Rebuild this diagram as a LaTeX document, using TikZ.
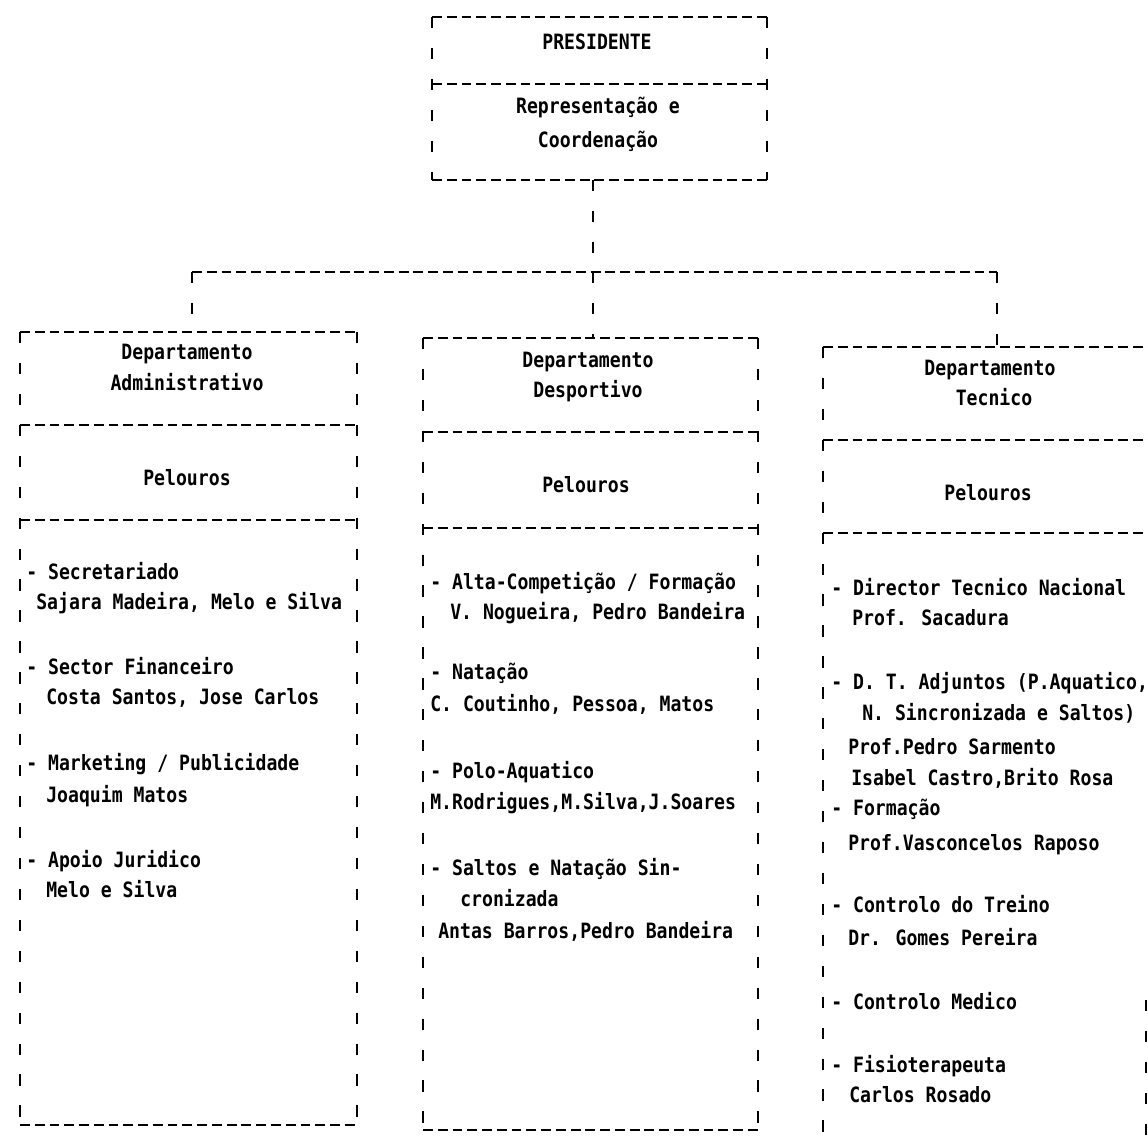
\documentclass[tikz,border=0pt]{standalone}
\usepackage{fontspec}
\newfontfamily\dotfont{DejaVu Sans Mono}[FakeStretch=0.86]
\tikzset{
  hdash/.style={line width=1.7pt, dash pattern=on 7pt off 3.5pt},
  vdash/.style={line width=1.7pt, dash pattern=on 8pt off 14pt},
  txt/.style={font=\dotfont\bfseries\fontsize{15pt}{17pt}\selectfont, inner sep=0pt, anchor=base},
  itm/.style={txt, anchor=base west}
}
\begin{document}
\begin{tikzpicture}[x=0.025cm, y=-0.025cm]
  \useasboundingbox (0,0) rectangle (1148,1136);

  % presidente
  \draw[hdash] (432,17) -- (767,17);
  \draw[hdash] (432,84) -- (767,84);
  \draw[hdash] (432,180) -- (767,180);
  \draw[vdash] (432,17) -- (432,180);
  \draw[vdash] (767,17) -- (767,180);
  \node[txt] (pres) at (597,50) {PRESIDENTE};
  \node[txt] (presrole1) at (598,114) {Representação e};
  \node[txt] (presrole2) at (598,148) {Coordenação};

  % links
  \coordinate (presbot) at (593,180);
  \coordinate (hub) at (593,272);
  \coordinate (admjoin) at (192,272);
  \coordinate (tecjoin) at (997,272);
  \coordinate (admtop) at (192,332);
  \coordinate (destop) at (593,338);
  \coordinate (tectop) at (997,347);
  \draw[vdash] (presbot) -- (hub);
  \draw[hdash] (admjoin) -- (tecjoin);
  \draw[vdash] (admjoin) -- (admtop);
  \draw[vdash] (hub) -- (destop);
  \draw[vdash] (tecjoin) -- (tectop);

  % departamento administrativo
  \draw[hdash] (20,332) -- (357,332);
  \draw[hdash] (20,425) -- (357,425);
  \draw[hdash] (20,520) -- (357,520);
  \draw[hdash] (20,1125) -- (357,1125);
  \draw[vdash] (20,332) -- (20,1125);
  \draw[vdash] (357,332) -- (357,1125);
  \node[txt] (admhead1) at (187,359) {Departamento};
  \node[txt] (admhead2) at (187,390) {Administrativo};
  \node[txt] (admpel) at (187,485) {Pelouros};
  \node[itm] (adm1) at (26,579) {- Secretariado};
  \node[itm] (adm2) at (36,609) {Sajara Madeira, Melo e Silva};
  \node[itm] (adm3) at (26,674) {- Sector Financeiro};
  \node[itm] (adm4) at (46,704) {Costa Santos, Jose Carlos};
  \node[itm] (adm5) at (26,770) {- Marketing / Publicidade};
  \node[itm] (adm6) at (46,802) {Joaquim Matos};
  \node[itm] (adm7) at (26,867) {- Apoio Juridico};
  \node[itm] (adm8) at (46,897) {Melo e Silva};

  % departamento desportivo
  \draw[hdash] (423,338) -- (758,338);
  \draw[hdash] (423,432) -- (758,432);
  \draw[hdash] (423,528) -- (758,528);
  \draw[hdash] (423,1130) -- (758,1130);
  \draw[vdash] (423,338) -- (423,1130);
  \draw[vdash] (758,338) -- (758,1130);
  \node[txt] (deshead1) at (588,367) {Departamento};
  \node[txt] (deshead2) at (588,397) {Desportivo};
  \node[txt] (despel) at (586,492) {Pelouros};
  \node[itm] (des1) at (430,589) {- Alta-Competição / Formação};
  \node[itm] (des2) at (450,619) {V. Nogueira, Pedro Bandeira};
  \node[itm] (des3) at (430,679) {- Natação};
  \node[itm] (des4) at (430,711) {C. Coutinho, Pessoa, Matos};
  \node[itm] (des5) at (430,778) {- Polo-Aquatico};
  \node[itm] (des6) at (430,809) {M.Rodrigues,M.Silva,J.Soares};
  \node[itm] (des7) at (430,875) {- Saltos e Natação Sin-};
  \node[itm] (des8) at (460,906) {cronizada};
  \node[itm] (des9) at (438,938) {Antas Barros,Pedro Bandeira};

  % departamento tecnico
  \draw[hdash] (823,347) -- (1148,347);
  \draw[hdash] (823,440) -- (1148,440);
  \draw[hdash] (823,533) -- (1148,533);
  \draw[vdash] (823,347) -- (823,1136);
  \draw[vdash] (1146,1000) -- (1146,1136);
  \node[txt] (techead1) at (990,375) {Departamento};
  \node[txt] (techead2) at (994,405) {Tecnico};
  \node[txt] (tecpel) at (988,500) {Pelouros};
  \node[itm] (tec1) at (831,595) {- Director Tecnico Nacional};
  \node[itm] (tec2) at (852,625) {Prof. Sacadura};
  \node[itm] (tec3) at (831,689) {- D. T. Adjuntos (P.Aquatico,};
  \node[itm] (tec4) at (862,720) {N. Sincronizada e Saltos)};
  \node[itm] (tec5) at (848,754) {Prof.Pedro Sarmento};
  \node[itm] (tec6) at (851,785) {Isabel Castro,Brito Rosa};
  \node[itm] (tec7) at (831,815) {- Formação};
  \node[itm] (tec8) at (848,850) {Prof.Vasconcelos Raposo};
  \node[itm] (tec9) at (831,912) {- Controlo do Treino};
  \node[itm] (tec10) at (848,945) {Dr. Gomes Pereira};
  \node[itm] (tec11) at (831,1009) {- Controlo Medico};
  \node[itm] (tec12) at (831,1072) {- Fisioterapeuta};
  \node[itm] (tec13) at (849,1102) {Carlos Rosado};

\end{tikzpicture}
\end{document}
